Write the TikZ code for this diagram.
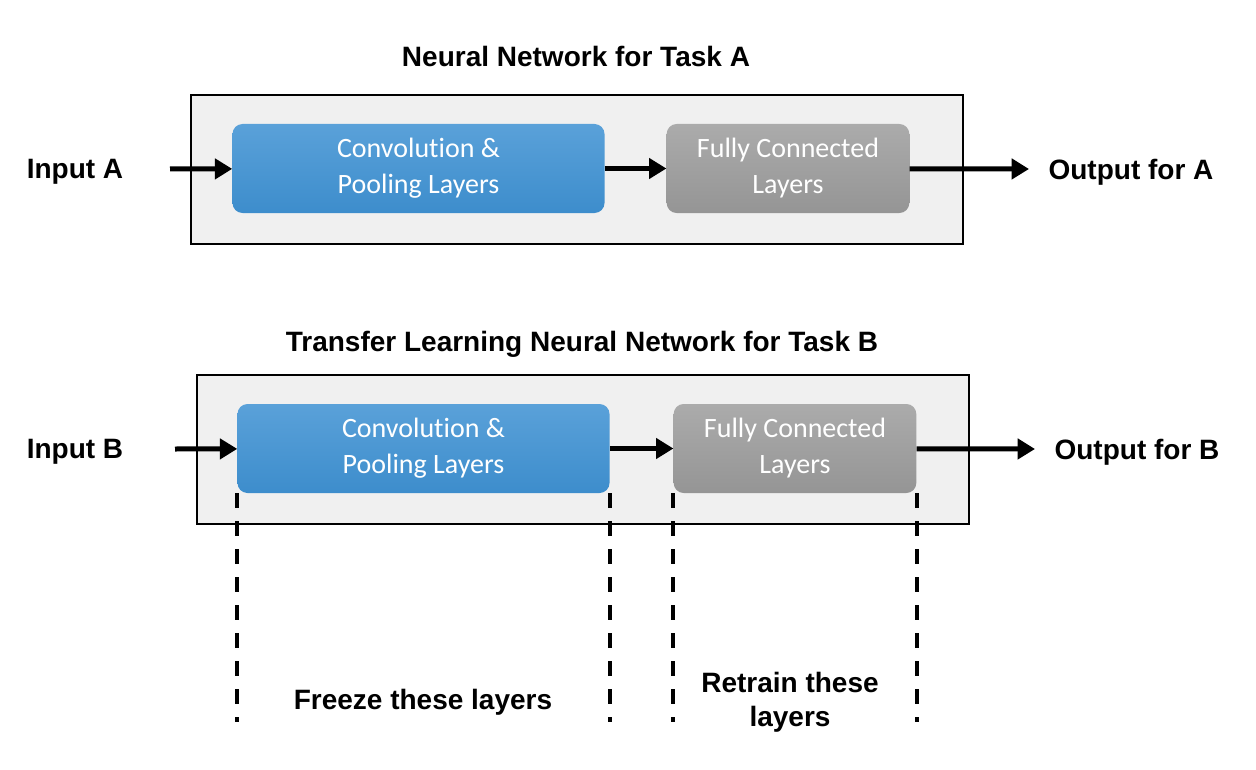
\documentclass[tikz,border=0pt]{standalone}
\usepackage{fontspec}
\setmainfont{Liberation Sans}
\newfontfamily\calibri[RawFeature={-liga;-clig;-dlig;-calt}]{Carlito}
\usetikzlibrary{positioning,arrows.meta}
\definecolor{blueTop}{HTML}{5AA1D9}
\definecolor{blueBot}{HTML}{3D8DCC}
\definecolor{grayTop}{HTML}{ABABAB}
\definecolor{grayBot}{HTML}{959595}
\definecolor{frameGray}{HTML}{F0F0F0}

\begin{document}
\begin{tikzpicture}[x=0.75pt,y=0.75pt]
	\tikzset{
		tag/.style={font=\fontsize{21}{25.5}\selectfont\bfseries,align=center},
		layer/.style={rounded corners=7.5pt,minimum height=66.75pt,inner sep=0pt,align=center,text=white,font=\calibri\fontsize{21}{27}\selectfont},
		conv/.style={layer,top color=blueTop,bottom color=blueBot,minimum width=279pt},
		fc/.style={layer,top color=grayTop,bottom color=grayBot,minimum width=182pt},
		netbox/.style={draw,line width=1.5pt,fill=frameGray,minimum width=579pt,minimum height=111.75pt,inner sep=0pt},
		flow/.style={line width=3.75pt,-{Triangle[length=13pt,width=15pt]}},
		cut/.style={line width=3pt,dash pattern=on 11.25pt off 9.75pt}
	}
	\useasboundingbox (0,0) rectangle (1256,-770);
	% task A
	\node[tag] (titleA) at (576,-56) {Neural Network for Task A};
	\node[netbox] (netA) at (577,-169.5) {};
	\node[conv] (convA) at (418.5,-168.5) {Convolut\kern0pt ion \&\\Pooling Layers};
	\node[fc] (fcA) at (788,-168.5) {Fully Connected\\Layers};
	\node[tag] (inA) at (75,-172) {Input A};
	\node[tag] (outA) at (1131,-172) {Output for A};
	\coordinate (srcA) at (170,-169);
	\coordinate (dstA) at (1029,-169);
	\path[flow]
		(srcA) edge (convA)
		(convA) edge (fcA)
		(fcA) edge (dstA);
	% task B
	\node[tag] (titleB) at (582,-344) {Transfer Learning Neural Network for Task B};
	\node[netbox] (netB) at (583,-449.5) {};
	\node[conv] (convB) at (423.5,-448.5) {Convolut\kern0pt ion \&\\Pooling Layers};
	\node[fc] (fcB) at (795,-448.5) {Fully Connected\\Layers};
	\node[tag] (inB) at (75,-452) {Input B};
	\node[tag] (outB) at (1137,-452) {Output for B};
	\coordinate (srcB) at (175,-449);
	\coordinate (dstB) at (1035,-449);
	\path[flow]
		(srcB) edge (convB)
		(convB) edge (fcB)
		(fcB) edge (dstB);
	% frozen / retrained parts
	\coordinate (floor) at (0,-722);
	\draw[cut] (convB.south west) -- (convB.south west |- floor);
	\draw[cut] (convB.south east) -- (convB.south east |- floor);
	\draw[cut] (fcB.south west) -- (fcB.south west |- floor);
	\draw[cut] (fcB.south east) -- (fcB.south east |- floor);
	\node[tag] (freeze) at (423,-702) {Freeze these layers};
	\node[tag] (retrain) at (790,-702) {Retrain these\\layers};
\end{tikzpicture}
\end{document}
